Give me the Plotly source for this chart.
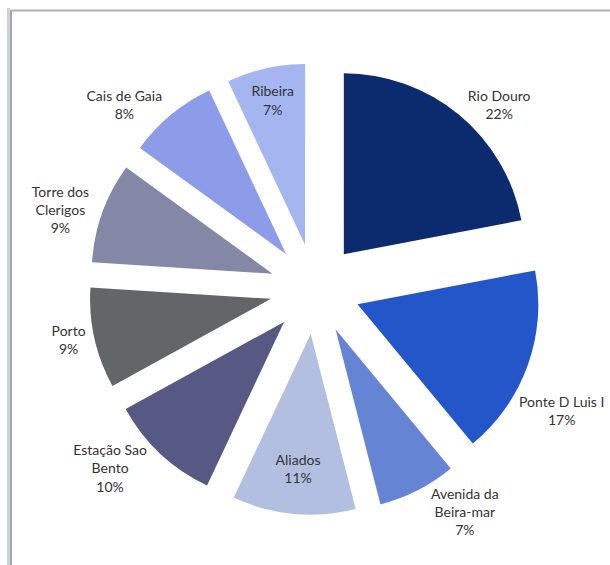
import plotly.graph_objects as go

# Share of visits per Porto landmark (clockwise from 12 o'clock)
places = ["Rio Douro", "Ponte D Luis I", "Avenida da Beira-mar", "Aliados",
          "Estação Sao Bento", "Porto", "Torre dos Clerigos", "Cais de Gaia", "Ribeira"]
shares = [22, 17, 7, 11, 10, 9, 9, 8, 7]
label_lines = ["Rio Douro", "Ponte D Luis I", "Avenida da<br>Beira-mar", "Aliados",
               "Estação Sao<br>Bento", "Porto", "Torre dos<br>Clerigos", "Cais de Gaia", "Ribeira"]
colors = ["#0C2A6E", "#2356C8", "#6584D4", "#B3BFE0", "#575883",
          "#626668", "#8587A6", "#8C9CE8", "#A4B5F0"]
# The bridge label is set as a separate note so it stays on the page
text_pos = ["outside", "none", "outside", "inside", "outside",
            "outside", "outside", "outside", "inside"]

W, H = 610, 565
cx, cy = 315, 289          # pie centre in pixels from top-left
half = 226                 # half-size of the pie domain

font = dict(family="Lato, Open Sans, Liberation Sans, sans-serif", size=14, color="#333333")

fig = go.Figure(go.Pie(
    labels=places,
    values=shares,
    text=label_lines,
    texttemplate="%{text}<br>%{percent:.0%}",
    textposition=text_pos,
    insidetextorientation="horizontal",
    sort=False,
    direction="clockwise",
    rotation=0,
    pull=[0.25] * len(shares),
    marker=dict(colors=colors, line=dict(width=0)),
    textfont=font,
    outsidetextfont=font,
    insidetextfont=font,
    automargin=False,
    showlegend=False,
    hoverinfo="label+percent",
    domain=dict(x=[(cx - half) / W, (cx + half) / W],
                y=[(H - cy - half) / H, (H - cy + half) / H]),
))

bridge = 1
fig.add_annotation(
    xref="paper", yref="paper",
    x=517 / W, y=1 - 410 / H, xanchor="left", yanchor="middle",
    text=f"{label_lines[bridge]}<br>{shares[bridge] / sum(shares):.0%}",
    showarrow=False, align="center", font=font,
)

# Chart-area frame running off the right and bottom of the page
fig.add_shape(type="rect", xref="paper", yref="paper",
              x0=7 / W, x1=10 / W, y0=0, y1=1 - 8 / H,
              line=dict(width=0), fillcolor="#C9D3E6", layer="below")
fig.add_shape(type="line", xref="paper", yref="paper",
              x0=11 / W, x1=11 / W, y0=0, y1=1 - 10 / H,
              line=dict(color="#A6A6A6", width=2))
fig.add_shape(type="line", xref="paper", yref="paper",
              x0=11 / W, x1=1, y0=1 - 10.5 / H, y1=1 - 10.5 / H,
              line=dict(color="#B0B0B0", width=2))

fig.update_layout(
    width=W, height=H,
    margin=dict(l=0, r=0, t=0, b=0, autoexpand=False),
    paper_bgcolor="white",
    plot_bgcolor="white",
)

fig.write_html("out.html")
